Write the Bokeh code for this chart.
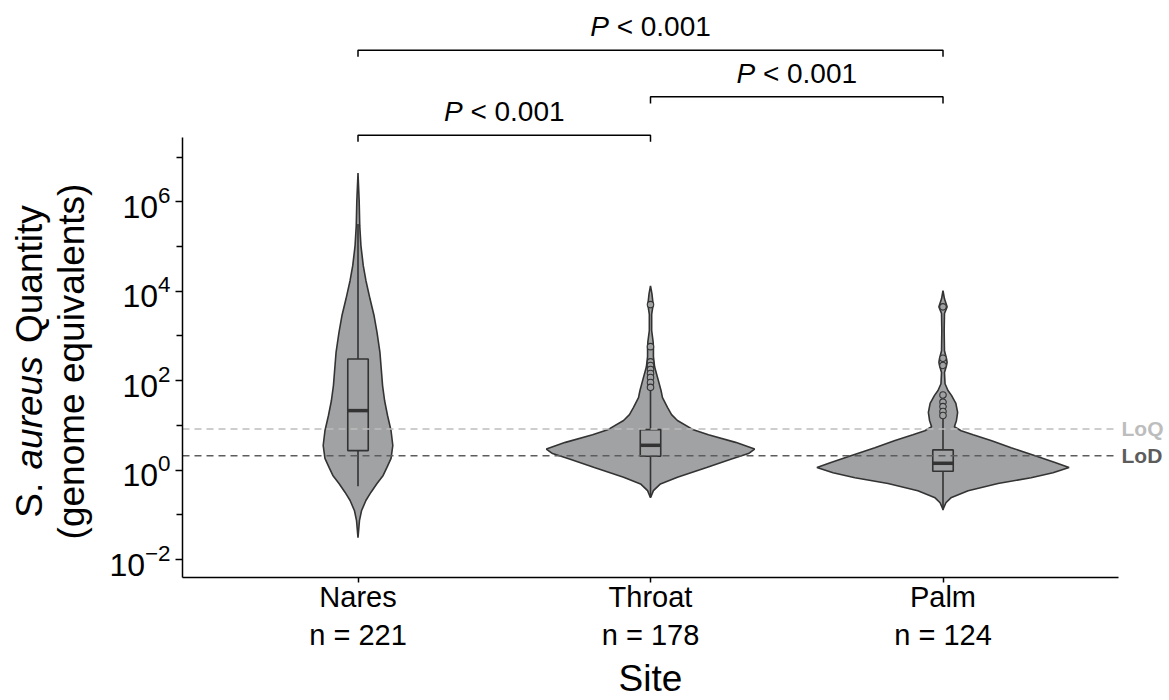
from bokeh.plotting import figure
from bokeh.models import Range1d, FixedTicker, LogTickFormatter, ColumnDataSource
from bokeh.core.properties import value
from bokeh.embed import file_html
from bokeh.resources import INLINE
import math

# ---------------- data ----------------
sites = ["Nares", "Throat", "Palm"]
counts = [221, 178, 124]
positions = [1, 2, 3]

# violin outlines: log10(genome equivalents) and half-width (x units)
nares_log = [6.64, 6.02, 5.46, 5.02, 4.57, 4.24, 3.83, 3.45, 3.08, 2.63, 2.22, 1.89, 1.55,
             1.22, 0.88, 0.55, 0.26, 0.06, -0.12, -0.30, -0.50, -0.68, -0.91, -1.13, -1.51]
nares_hw = [0.0, 0.004, 0.006, 0.010, 0.018, 0.027, 0.041, 0.055, 0.065, 0.075, 0.080, 0.084, 0.091,
            0.101, 0.113, 0.119, 0.113, 0.099, 0.086, 0.065, 0.044, 0.027, 0.012, 0.005, 0.0]

throat_log = [4.12, 3.94, 3.70, 3.48, 3.12, 2.87, 2.74, 2.54, 2.31, 2.00, 1.78, 1.62, 1.40, 1.24,
              1.11, 0.91, 0.79, 0.62, 0.47, 0.37, 0.25, 0.06, -0.16, -0.31, -0.46, -0.62]
throat_hw = [0.0, 0.005, 0.009, 0.004, 0.004, 0.009, 0.010, 0.010, 0.014, 0.027, 0.036, 0.041, 0.058,
             0.072, 0.092, 0.144, 0.198, 0.291, 0.356, 0.335, 0.277, 0.192, 0.092, 0.034, 0.010, 0.0]

palm_log = [4.01, 3.83, 3.65, 3.50, 3.12, 2.67, 2.49, 2.41, 2.34, 2.18, 1.93, 1.78, 1.67, 1.49,
            1.29, 1.11, 0.97, 0.88, 0.79, 0.66, 0.50, 0.32, 0.17, 0.06, -0.06, -0.17, -0.30,
            -0.46, -0.62, -0.73, -0.88]
palm_hw = [0.0, 0.005, 0.014, 0.005, 0.004, 0.005, 0.012, 0.014, 0.012, 0.005, 0.007, 0.017, 0.029,
           0.044, 0.050, 0.046, 0.039, 0.062, 0.103, 0.164, 0.233, 0.315, 0.383, 0.431, 0.376,
           0.301, 0.188, 0.086, 0.027, 0.010, 0.0]

# box-plot statistics (log10)
box_q1 = [0.436, 0.308, -0.027]
box_med = [1.330, 0.554, 0.152]
box_q3 = [2.485, 0.905, 0.451]
whisk_lo = [-0.36, -0.60, -0.90]
whisk_hi = [5.50, 1.82, 1.14]

throat_outliers = [3.70, 2.76, 2.42, 2.34, 2.25, 2.16, 2.07, 1.96, 1.85]
palm_outliers = [3.65, 2.50, 2.34, 1.68, 1.52, 1.42, 1.31, 1.22]

LOD = 2.08
LOQ = 8.3

comparisons = [(1, 2), (2, 3), (1, 3)]
comparison_labels = ["< 0.001", "< 0.001", "< 0.001"]

y_title_parts = [("S.", "normal"), ("aureus", "italic"), ("Quantity", "normal")]
y_title_line2 = "(genome equivalents)"
x_title = "Site"

# ---------------- geometry ----------------
W, H = 1169, 700
PL, PR, PT, PB = 182, 1118, 137, 577       # panel edges in pixels
X0, X1 = 0.4, 3.6                          # panel x limits
LOG_BOT, LOG_TOP = -2.402, 7.437           # panel y limits (log10)
px_x = (PR - PL) / (X1 - X0)
px_dec = (PB - PT) / (LOG_TOP - LOG_BOT)


def dx(px):          # pixel column -> data x
    return X0 + (px - PL) / px_x


def dy(py):          # pixel row -> data y
    return 10 ** (LOG_BOT + (PB - py) / px_dec)


bracket_log = [7.49, 8.346, 9.39]
BRACKET_DROP = 0.15
MID = 0.35           # baseline-to-middle offset, in em

FONT = "Liberation Sans"
INK = "#333333"
FILL = "#a1a2a4"

p = figure(width=W, height=H, y_axis_type="log", output_backend="svg", toolbar_location=None,
           x_range=Range1d(dx(0), dx(W)), y_range=Range1d(dy(H), dy(0)), min_border=0)
p.outline_line_color = None
p.grid.grid_line_color = None

# violins
profiles = [(nares_log, nares_hw), (throat_log, throat_hw), (palm_log, palm_hw)]
for pos, (lg, hw) in zip(positions, profiles):
    xs = [pos - w for w in hw] + [pos + w for w in reversed(hw)]
    ys = [10 ** v for v in lg] + [10 ** v for v in reversed(lg)]
    p.patch(xs, ys, fill_color=FILL, line_color=INK, line_width=1.6)

# boxes
BOX_HALF = 0.035
src = ColumnDataSource(dict(
    x=positions,
    left=[c - BOX_HALF for c in positions], right=[c + BOX_HALF for c in positions],
    q1=[10 ** v for v in box_q1], q3=[10 ** v for v in box_q3], med=[10 ** v for v in box_med],
    lo=[10 ** v for v in whisk_lo], hi=[10 ** v for v in whisk_hi]))
p.segment(x0="x", x1="x", y0="lo", y1="q1", source=src, line_color=INK, line_width=1.6)
p.segment(x0="x", x1="x", y0="q3", y1="hi", source=src, line_color=INK, line_width=1.6)
p.quad(left="left", right="right", bottom="q1", top="q3", source=src,
       fill_color=FILL, line_color=INK, line_width=1.6)
p.segment(x0="left", x1="right", y0="med", y1="med", source=src, line_color=INK, line_width=3.5)

# outliers
ox = [2] * len(throat_outliers) + [3] * len(palm_outliers)
oy = [10 ** v for v in throat_outliers + palm_outliers]
p.scatter(ox, oy, marker="circle", size=6.5, fill_color=FILL, line_color=INK, line_width=1.1)

# LoQ / LoD lines (across the panel) and labels
LOQ_COL, LOD_COL = "#bdbdbd", "#5c5c5c"
p.line([X0, X1], [LOQ, LOQ], line_color=LOQ_COL, line_width=1.5, line_dash="7 5")
p.line([X0, X1], [LOD, LOD], line_color=LOD_COL, line_width=1.5, line_dash="7 5")
p.text([dx(1121), dx(1121)], [LOQ, LOD], text=["LoQ", "LoD"], text_font=value(FONT),
       text_font_size="21px", text_font_style="bold", text_color=[LOQ_COL, LOD_COL],
       text_baseline="middle", text_align="left")

# significance brackets
FS_P = 28
wP = 0.667 * FS_P
wS = 0.278 * FS_P
wR = 3.364 * FS_P
P_OFFSET = (14 + MID * FS_P) / px_dec      # bracket line -> text middle
for (a, b), h, lab in zip(comparisons, bracket_log, comparison_labels):
    top = 10 ** h
    low = 10 ** (h - BRACKET_DROP)
    p.line([a, a, b, b], [low, top, top, low], line_color="black", line_width=1.5)
    xs = (a + b) / 2 - (wP + wS + wR) / 2 / px_x
    ty = 10 ** (h + P_OFFSET)
    p.text([xs], [ty], text=["P"], text_font=value(FONT), text_font_size=f"{FS_P}px",
           text_font_style="italic", text_align="left", text_baseline="middle", text_color="black")
    p.text([xs + (wP + wS) / px_x], [ty], text=[lab], text_font=value(FONT),
           text_font_size=f"{FS_P}px", text_align="left", text_baseline="middle",
           text_color="black")

# axes, fixed at the panel edges
xa = p.xaxis[0]
xa.fixed_location = 10 ** LOG_BOT
xa.bounds = (X0, X1)
xa.ticker = FixedTicker(ticks=positions)
xa.major_label_overrides = {pos: f"{s}\nn = {n}" for pos, s, n in zip(positions, sites, counts)}
xa.major_label_text_font = FONT
xa.major_label_text_font_size = "29px"
xa.major_label_text_color = "black"
xa.major_label_standoff = -2
xa.major_tick_out = 5
xa.major_tick_in = 0
xa.minor_tick_line_color = None
xa.axis_line_width = 1.5
xa.major_tick_line_width = 1.5

ya = p.yaxis[0]
ya.fixed_location = X0
ya.bounds = (10 ** LOG_BOT, 10 ** LOG_TOP)
ya.ticker = FixedTicker(ticks=[1e-2, 1, 1e2, 1e4, 1e6], minor_ticks=[1e-1, 1e1, 1e3, 1e5, 1e7])
ya.formatter = LogTickFormatter()
ya.major_label_text_font = FONT
ya.major_label_text_font_size = "32px"
ya.major_label_text_color = "black"
ya.major_label_standoff = 5
ya.major_tick_out = 7
ya.major_tick_in = 0
ya.minor_tick_out = 6
ya.minor_tick_in = 0
ya.axis_line_width = 1.5
ya.major_tick_line_width = 1.5
ya.minor_tick_line_width = 1.5

# y-axis title (two lines, "aureus" in italics), reading bottom to top
FS_T = 37
centre_px = 361
widths = [0.945 * FS_T, 3.057 * FS_T, 3.724 * FS_T]
gap = 0.36 * FS_T
total = sum(widths) + 2 * gap
start_px = centre_px + total / 2
off = 0.0
line1_mid = 42 - MID * FS_T
line2_mid = 84 - MID * FS_T
for (txt, style), w in zip(y_title_parts, widths):
    p.text([dx(line1_mid)], [dy(start_px - off)], text=[txt], angle=math.pi / 2, text_font=value(FONT),
           text_font_size=f"{FS_T}px", text_font_style=style, text_align="left",
           text_baseline="middle", text_color="black")
    off += w + gap
p.text([dx(line2_mid)], [dy(centre_px)], text=[y_title_line2], angle=math.pi / 2, text_font=value(FONT),
       text_font_size=f"{FS_T}px", text_align="center", text_baseline="middle",
       text_color="black")

# x-axis title (kept just inside the bottom edge)
p.text([dx((PL + PR) / 2)], [dy(678)], text=[x_title], text_font=value(FONT),
       text_font_size=f"{FS_T}px", text_align="center", text_baseline="middle",
       text_color="black")

open("out.html", "w").write(file_html(p, INLINE))
